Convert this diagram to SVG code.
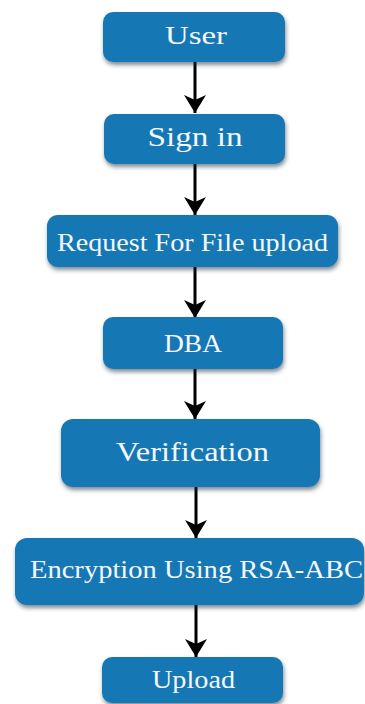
<svg xmlns="http://www.w3.org/2000/svg" width="365" height="704" viewBox="0 0 365 704">
<style>
.box{fill:#1877b5;filter:url(#sh)}
.lbl{fill:#f4f8fb;font-family:"Liberation Serif","Times New Roman",serif;text-anchor:middle}
.con{stroke:#000;stroke-width:3;fill:none;marker-end:url(#ah)}
</style>
<defs>
<filter id="sh" x="-10%" y="-20%" width="120%" height="150%">
<feDropShadow dx="1" dy="3" stdDeviation="2" flood-color="#203040" flood-opacity="0.55"/>
</filter>
<marker id="ah" markerUnits="userSpaceOnUse" markerWidth="20" markerHeight="22" refX="18" refY="11" orient="auto">
<path d="M0,0 L18,11 L0,22 L5,11 Z" fill="#000"/>
</marker>
</defs>
<rect width="365" height="704" fill="#fff"/>
<g id="connectors">
<line class="con" x1="195" y1="62" x2="195" y2="113"/>
<line class="con" x1="195" y1="164" x2="195" y2="215"/>
<line class="con" x1="195" y1="267" x2="195" y2="318"/>
<line class="con" x1="195" y1="369" x2="195" y2="419"/>
<line class="con" x1="196" y1="487" x2="196" y2="538"/>
<line class="con" x1="196" y1="605" x2="196" y2="657"/>
</g>
<g id="user"><rect class="box" x="103" y="12" width="182" height="50" rx="10"/><text class="lbl" x="196" y="44" font-size="25" textLength="62" lengthAdjust="spacingAndGlyphs">User</text></g>
<g id="signin"><rect class="box" x="104" y="114" width="181" height="50" rx="10"/><text class="lbl" x="195" y="146" font-size="28" textLength="95" lengthAdjust="spacingAndGlyphs">Sign in</text></g>
<g id="request"><rect class="box" x="47" y="215" width="291" height="52" rx="11"/><text class="lbl" x="192.5" y="251" font-size="26" textLength="271" lengthAdjust="spacingAndGlyphs">Request For File upload</text></g>
<g id="dba"><rect class="box" x="103" y="317" width="180" height="52" rx="10"/><text class="lbl" x="193" y="352" font-size="25" textLength="58" lengthAdjust="spacingAndGlyphs">DBA</text></g>
<g id="verification"><rect class="box" x="61" y="419" width="259" height="68" rx="12"/><text class="lbl" x="192.5" y="461" font-size="28" textLength="153" lengthAdjust="spacingAndGlyphs">Verification</text></g>
<g id="encryption"><rect class="box" x="15" y="538" width="349" height="67" rx="12"/><text class="lbl" x="196.5" y="578" font-size="26" textLength="333" lengthAdjust="spacingAndGlyphs">Encryption Using RSA-ABC</text></g>
<g id="upload"><rect class="box" x="102" y="657" width="181" height="46" rx="10"/><text class="lbl" x="193.5" y="688" font-size="26" textLength="83" lengthAdjust="spacingAndGlyphs">Upload</text></g>
</svg>
